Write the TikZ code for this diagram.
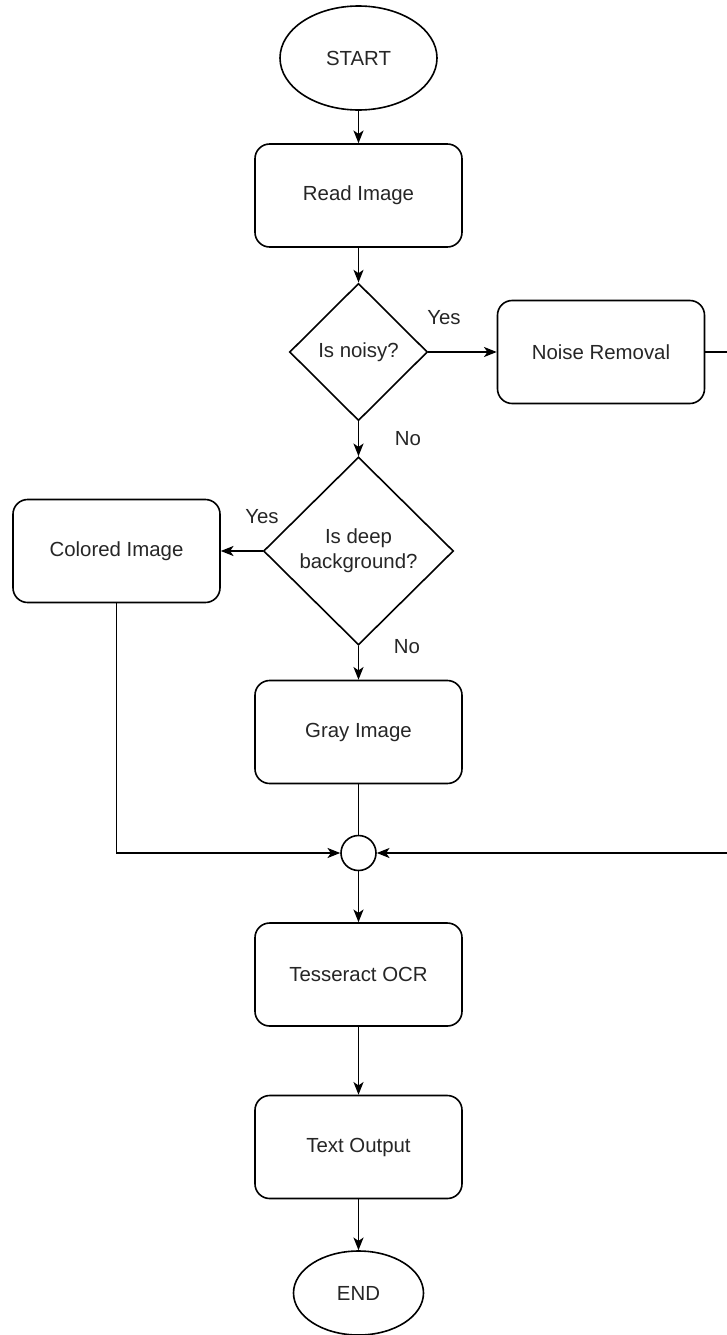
\documentclass[tikz,border=0pt]{standalone}
\usepackage{fontspec}
\setmainfont{Liberation Sans}
\usetikzlibrary{shapes.geometric,arrows.meta}
\begin{document}
\begin{tikzpicture}[x=0.75pt,y=-0.75pt,
  font=\fontsize{15.3pt}{18.5pt}\selectfont,
  every node/.style={text=black!85},
  line/.style={draw=black,line width=1.2pt},
  arrow/.style={line,-{Stealth[length=9.5pt,width=7.5pt,inset=2.5pt]}},
  terminal/.style={ellipse,draw,line width=1.2pt,inner sep=0pt},
  proc/.style={rectangle,rounded corners=11pt,draw,line width=1.2pt,
    minimum width=155.25pt,minimum height=77.25pt,inner sep=0pt},
  decision/.style={diamond,draw,line width=1.2pt,inner sep=0pt,aspect=1},
  junction/.style={circle,draw,line width=1.2pt,minimum size=26.25pt,inner sep=0pt},
  lbl/.style={inner sep=0pt}]

% canvas
\fill[white] (0,0) rectangle (727,1335);
\useasboundingbox (0,0) rectangle (727,1335);

% flow nodes
\node[terminal,minimum width=117.75pt,minimum height=78pt] (start) at (358.5,58) {START};
\node[proc] (read) at (358.5,195.5) {Read Image};
\node[decision,minimum width=103.5pt,minimum height=103pt] (noisy) at (358.5,352) {Is noisy?};
\node[proc] (noise) at (601,352) {Noise Removal};
\node[decision,minimum width=142.5pt,minimum height=141pt,align=center] (deep) at (358.5,551) {Is deep\\background?};
\node[proc] (colored) at (116.5,551) {Colored Image};
\node[proc] (gray) at (358.5,732) {Gray Image};
\node[junction] (join) at (358.5,853) {};
\node[proc] (ocr) at (358.5,974.5) {Tesseract OCR};
\node[proc] (out) at (358.5,1147) {Text Output};
\node[terminal,minimum width=97.5pt,minimum height=63pt] (end) at (358.5,1293) {END};

% branch labels
\node[lbl] (yes1) at (444,318) {Yes};
\node[lbl] (no1) at (408,439) {No};
\node[lbl] (yes2) at (262,517) {Yes};
\node[lbl] (no2) at (407,647) {No};

% bend point of the return line, just past the right edge
\coordinate (rtop) at (729,352);

% connectors
\draw[arrow] (start) -- (read);
\draw[arrow] (read) -- (noisy);
\draw[arrow] (noisy.east) -- (noise.west);
\draw[arrow] (noisy.south) -- (deep.north);
\draw[arrow] (deep.west) -- (colored.east);
\draw[arrow] (deep.south) -- (gray.north);
\draw[line] (gray.south) -- (join.north);
\draw[arrow] (colored.south) |- (join.west);
\draw[arrow] (noise.east) -- (rtop) |- (join.east);
\draw[arrow] (join.south) -- (ocr.north);
\draw[arrow] (ocr) -- (out);
\draw[arrow] (out) -- (end);
\end{tikzpicture}
\end{document}
